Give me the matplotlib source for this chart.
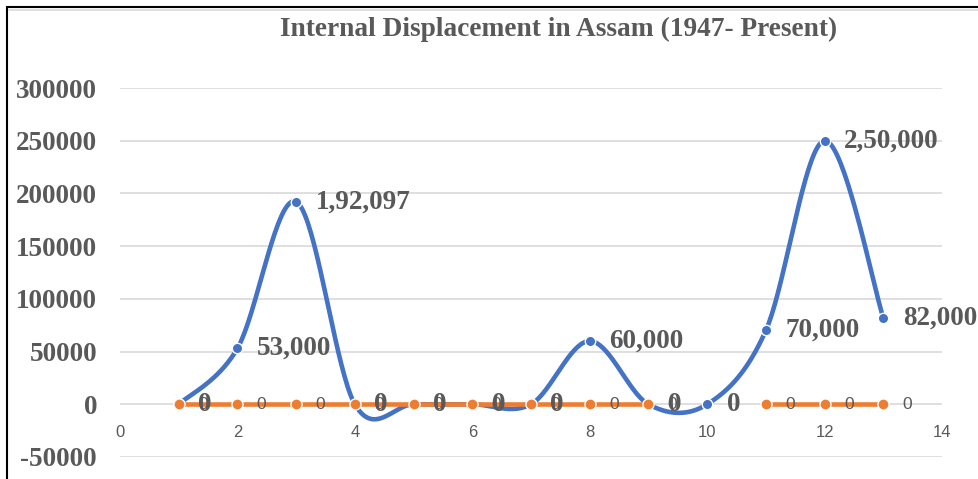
import numpy as np
import matplotlib
matplotlib.use("Agg")
import matplotlib.pyplot as plt
from matplotlib.patches import Rectangle
from matplotlib.lines import Line2D

plt.rcParams["axes.unicode_minus"] = False

# ---- data ----
x_vals = [1, 2, 3, 4, 5, 6, 7, 8, 9, 10, 11, 12, 13]
displaced = [0, 53000, 192097, 0, 0, 0, 0, 60000, 0, 0, 70000, 250000, 82000]
second_series = [0, 0, 0, 0, 0, 0, 0, 0, 0, np.nan, 0, 0, 0]
y_ticks = [-50000, 0, 50000, 100000, 150000, 200000, 250000, 300000]
x_ticks = [0, 2, 4, 6, 8, 10, 12, 14]
title = "Internal Displacement in Assam (1947- Present)"

BLUE = "#4472C4"
ORANGE = "#ED7D31"
GRAY_TXT = "#595959"
GRID = "#D9D9D9"
SERIF = "Liberation Serif"
SANS = "Liberation Sans"


def indian_format(v):
    s = str(int(round(v)))
    if len(s) <= 3:
        return s
    last3 = s[-3:]
    rest = s[:-3]
    groups = []
    while len(rest) > 2:
        groups.insert(0, rest[-2:])
        rest = rest[:-2]
    if rest:
        groups.insert(0, rest)
    return ",".join(groups) + "," + last3


def catmull_rom(xs, ys, n=40):
    xs = np.asarray(xs, float)
    ys = np.asarray(ys, float)
    P = np.column_stack([xs, ys])
    out = []
    m = len(P)
    for i in range(m - 1):
        p0 = P[i - 1] if i > 0 else P[i]
        p1 = P[i]
        p2 = P[i + 1]
        p3 = P[i + 2] if i + 2 < m else P[i + 1]
        c1 = p1 + (p2 - p0) / 6.0
        c2 = p2 - (p3 - p1) / 6.0
        t = np.linspace(0, 1, n)[:, None]
        seg = ((1 - t) ** 3) * p1 + 3 * ((1 - t) ** 2) * t * c1 + 3 * (1 - t) * t ** 2 * c2 + t ** 3 * p2
        out.append(seg if i == 0 else seg[1:])
    arr = np.vstack(out)
    return arr[:, 0], arr[:, 1]


W, H = 979, 479
fig = plt.figure(figsize=(W / 100, H / 100), dpi=100)

# chart border (cropped chart area)
fig.add_artist(Rectangle((7 / W, -0.1), 1.2, (H - 7) / H + 0.1, transform=fig.transFigure,
                         fill=False, edgecolor="black", linewidth=1.5))
fig.add_artist(Line2D([9 / W, 1.0], [(H - 10) / H] * 2, transform=fig.transFigure,
                      color=GRID, linewidth=1.2))

ax = fig.add_axes([120 / W, 22 / H, (942 - 120) / W, (457 - 88) / H])
ax.set_xlim(0, 14)
ax.set_ylim(-50000, 300000)
ax.set_xticks(x_ticks)
ax.set_yticks(y_ticks)
for s in ax.spines.values():
    s.set_visible(False)
ax.grid(axis="y", color=GRID, linewidth=1.2)
ax.set_axisbelow(True)

# x tick labels sit just below the zero line
ax.spines["bottom"].set_position(("data", 0))
ax.tick_params(axis="x", length=0, pad=15, labelsize=12, labelcolor=GRAY_TXT)
for lab in ax.get_xticklabels():
    lab.set_fontfamily(SANS)
ax.tick_params(axis="y", length=0, pad=16.5, labelsize=19.5, labelcolor=GRAY_TXT)
for lab in ax.get_yticklabels():
    lab.set_fontfamily(SERIF)
    lab.set_fontweight("bold")

# blue smoothed series
sx, sy = catmull_rom(x_vals, displaced)
ax.plot(sx, sy, color=BLUE, linewidth=3.3, solid_capstyle="round", zorder=3)
ax.plot(x_vals, displaced, linestyle="none", marker="o", markersize=7.5,
        markerfacecolor=BLUE, markeredgecolor="white", markeredgewidth=1.0, zorder=4)

# orange series
ax.plot(x_vals, second_series, color=ORANGE, linewidth=3.3, marker="o", markersize=8,
        markerfacecolor=ORANGE, markeredgecolor="white", markeredgewidth=1.0, zorder=5)

# labels
for xv, yv in zip(x_vals, second_series):
    if np.isnan(yv):
        continue
    ax.annotate(indian_format(yv), (xv, yv), xytext=(14, 0), textcoords="offset points",
                ha="left", va="center", fontsize=12.5, color=GRAY_TXT, family=SANS,
                zorder=6, annotation_clip=False)
for xv, yv in zip(x_vals, displaced):
    ax.annotate(indian_format(yv), (xv, yv), xytext=(14, 0), textcoords="offset points",
                ha="left", va="center", fontsize=19.5, fontweight="bold", color=GRAY_TXT,
                family=SERIF, zorder=7, annotation_clip=False)

fig.text(559 / W, 1 - 29 / H, title, ha="center", va="center", fontsize=19.7,
         fontweight="bold", family=SERIF, color=GRAY_TXT)

fig.savefig("out.png", dpi=100)
